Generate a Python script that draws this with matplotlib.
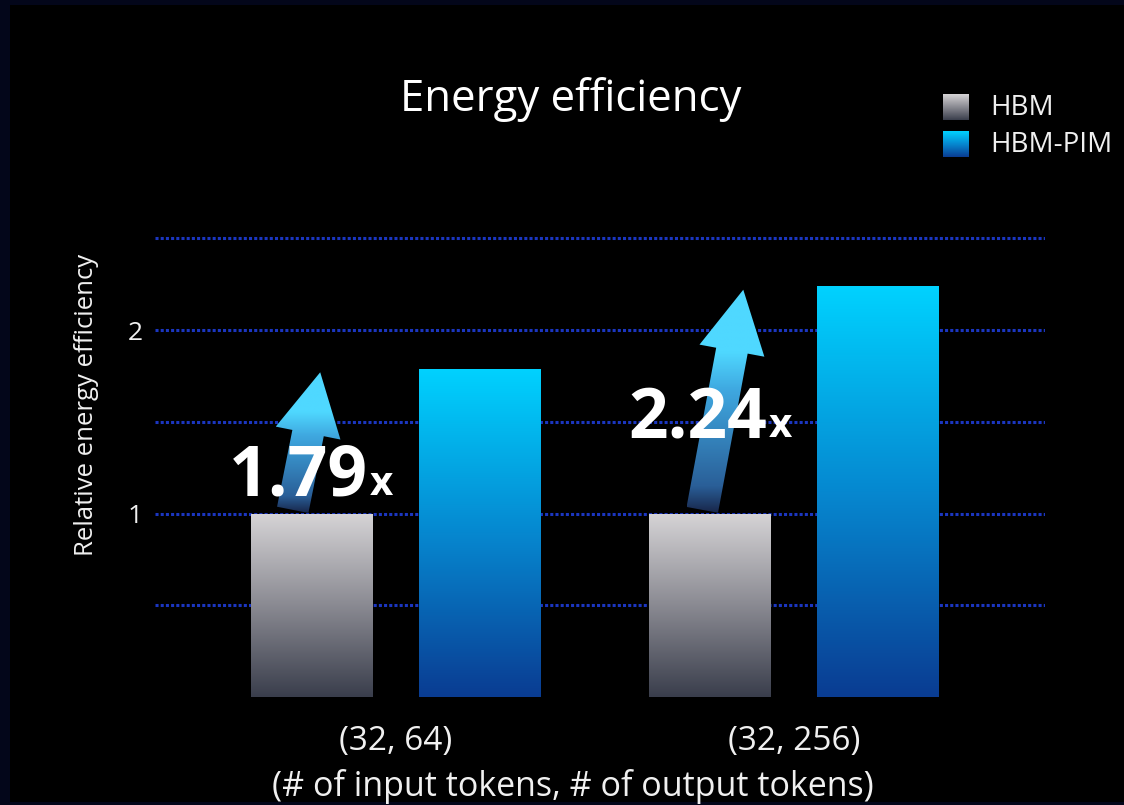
import numpy as np
import matplotlib.pyplot as plt
from matplotlib.patches import Rectangle, Polygon
from matplotlib.colors import LinearSegmentedColormap

plt.rcParams['font.family'] = ['Open Sans', 'DejaVu Sans']

# data
categories = ['(32, 64)', '(32, 256)']
series = ['HBM', 'HBM-PIM']
hbm = [1.0, 1.0]
hbm_pim = [1.79, 2.24]
gains = ['1.79', '2.24']
yticks = [1, 2]

W, H = 1124, 805
BG = '#000000'
TXT = '#f0f0f0'

hbm_cmap = LinearSegmentedColormap.from_list('hbm', ['#3a3e4c', '#8a8a92', '#d6d4d6'])
pim_cmap = LinearSegmentedColormap.from_list('pim', ['#0a3c92', '#0688d0', '#00d2ff'])
arrow_cmap = LinearSegmentedColormap.from_list(
    'arr', [(0.0, '#18264a'), (0.12, '#2a5f98'), (0.55, '#3fa8e0'), (0.72, '#4fd8ff'), (1.0, '#4fd8ff')])

fig = plt.figure(figsize=(W / 100, H / 100), dpi=100, facecolor=BG)
ax = fig.add_axes([155 / W, (H - 697) / H, 890 / W, (697 - 220) / H])
ax.set_facecolor(BG)

# thin navy strips along left, top and bottom edges
for (fx, fy, fw, fh) in [(0, 0, 10, H), (0, H - 5, W, 5), (0, 0, W, 3)]:
    fig.patches.append(Rectangle((fx / W, fy / H), fw / W, fh / H, transform=fig.transFigure,
                                 facecolor='#03061a', edgecolor='none', zorder=0))

xlim = (-0.6055, 1.6307)
ylim = (0, 2.6)
ax.set_xlim(*xlim)
ax.set_ylim(*ylim)

for gy in [0.5, 1.0, 1.5, 2.0, 2.5]:
    ax.axhline(gy, color='#1b36c0', lw=2.2, ls=(0, (1, 0.7)), zorder=1)

grad = np.linspace(0, 1, 256).reshape(-1, 1)
bw = 0.3065
off = 0.2104
x = np.arange(len(categories))


def grad_bar(xc, h, cmap):
    x0 = xc - bw / 2
    rect = Rectangle((x0, 0), bw, h, facecolor='none', edgecolor='none')
    ax.add_patch(rect)
    im = ax.imshow(grad, cmap=cmap, origin='lower', aspect='auto',
                   extent=(x0, x0 + bw, 0, h), zorder=2)
    im.set_clip_path(rect)


for i in range(len(categories)):
    grad_bar(x[i] - off, hbm[i], hbm_cmap)
    grad_bar(x[i] + off, hbm_pim[i], pim_cmap)

ax.set_xlim(*xlim)
ax.set_ylim(*ylim)

# gain arrows: from top of HBM bar up to the HBM-PIM level
base_dx = [-0.049, -0.020]
tip_dx = [0.020, 0.083]
fig.canvas.draw()
to_px = ax.transData
to_data = ax.transData.inverted()
for i in range(len(categories)):
    b = np.array(to_px.transform((x[i] - off + base_dx[i], hbm[i] + 0.02)))
    t = np.array(to_px.transform((x[i] - off + tip_dx[i], hbm_pim[i] - 0.02)))
    d = t - b
    L = np.hypot(*d)
    u = d / L
    n = np.array([-u[1], u[0]])
    bwid, hwid, hlen = 16, 33, 62
    hb = t - u * hlen
    pts = [b + n * bwid, hb + n * bwid, hb + n * hwid, t,
           hb - n * hwid, hb - n * bwid, b - n * bwid]
    dpts = to_data.transform(pts)
    poly = Polygon(dpts, closed=True, facecolor='none', edgecolor='none')
    ax.add_patch(poly)
    xs, ys = dpts[:, 0], dpts[:, 1]
    im = ax.imshow(grad, cmap=arrow_cmap, origin='lower', aspect='auto',
                   extent=(xs.min(), xs.max(), ys.min(), ys.max()), zorder=3)
    im.set_clip_path(poly)

ax.set_xlim(*xlim)
ax.set_ylim(*ylim)

# gain labels
label_pos = [(229, 495), (628, 437)]
for (px, py), g in zip(label_pos, gains):
    t = fig.text(px / W, 1 - py / H, g, color='white', fontsize=50, fontweight='bold',
                 ha='left', va='baseline', zorder=5)
    fig.canvas.draw()
    bb = t.get_window_extent()
    fig.text((bb.x1 + 2) / W, 1 - py / H, 'x', color='white', fontsize=29,
             fontweight='bold', ha='left', va='baseline', zorder=5)

for s in ax.spines.values():
    s.set_visible(False)
ax.set_yticks(yticks)
ax.set_yticklabels([str(v) for v in yticks])
ax.tick_params(axis='y', length=0, pad=9, labelsize=19, labelcolor=TXT)
ax.set_xticks(x)
ax.set_xticklabels(categories)
ax.tick_params(axis='x', length=0, pad=20, labelsize=24, labelcolor=TXT)

fig.text(87 / W, 1 - 405 / H, 'Relative energy efficiency', rotation=90, color=TXT,
         fontsize=18.5, ha='center', va='center')
fig.text(573 / W, 1 - 786 / H, '(# of input tokens, # of output tokens)', color=TXT,
         fontsize=24.5, ha='center', va='center')
fig.text(571 / W, 1 - 100 / H, 'Energy efficiency', color='white', fontsize=31.5,
         ha='center', va='center')

# legend
for j, (name, cmap) in enumerate(zip(series, [hbm_cmap, pim_cmap])):
    y0 = 94 + j * 37
    lax = fig.add_axes([943 / W, 1 - (y0 + 26) / H, 26 / W, 26 / H])
    lax.imshow(grad, cmap=cmap, origin='lower', aspect='auto', extent=(0, 1, 0, 1))
    lax.set_axis_off()
    fig.text(990 / W, 1 - (y0 + 14) / H, name, color=TXT, fontsize=20,
             ha='left', va='center')

fig.savefig('out.png', dpi=100, facecolor=BG)
